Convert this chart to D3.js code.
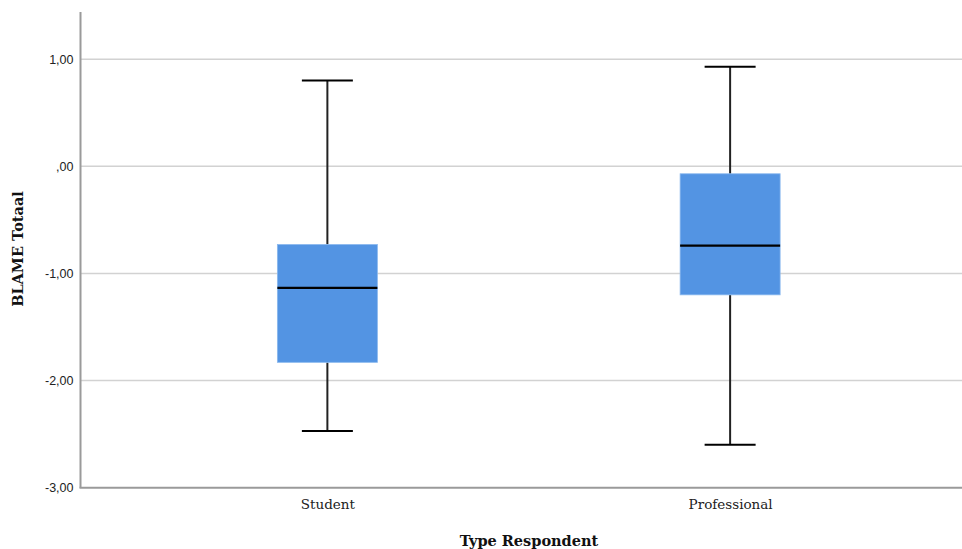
<!DOCTYPE html>
<html><head><meta charset="utf-8">
<script src="https://cdn.jsdelivr.net/npm/d3@7"></script>
<style>body{margin:0;background:#fff}svg{display:block}</style>
</head><body>
<svg id="c" width="962" height="549"></svg>
<script>
const categories = ["Student", "Professional"];
const whiskerLow  = [-2.47, -2.60];
const q1          = [-1.83, -1.20];
const medians     = [-1.135, -0.74];
const q3          = [-0.73, -0.07];
const whiskerHigh = [0.80, 0.93];
const yTicks = [1, 0, -1, -2, -3];
const tickLabels = ["1,00", ",00", "-1,00", "-2,00", "-3,00"];

(function () {
const svg = d3.select("#c");
const pL = 80.5, pT = 12, pB = 487.7, pR = 977;
const serif = "'DejaVu Serif', 'Liberation Serif', serif";
const y = d3.scaleLinear().domain([-3, 1.44]).range([pB, pT]);
const x = d3.scalePoint().domain(categories).range([pL, pR]).padding(0.613);

// grid
svg.append("g").selectAll("line").data(yTicks.filter(d => d !== -3)).join("line")
  .attr("x1", pL).attr("x2", 962).attr("y1", d => y(d)).attr("y2", d => y(d))
  .attr("stroke", "#d2d2d2").attr("stroke-width", 1.5);

// y axis
const yAxis = d3.axisLeft(y).tickValues(yTicks).tickSize(0).tickPadding(7)
  .tickFormat((d, i) => tickLabels[i]);
const gy = svg.append("g").attr("transform", `translate(${pL},0)`).call(yAxis);
gy.select(".domain").remove();
gy.selectAll("text").attr("font-family", "Arial, 'Liberation Sans', sans-serif")
  .attr("font-size", 12.5).attr("fill", "#222");
svg.append("line").attr("x1", pL).attr("x2", pL).attr("y1", pT).attr("y2", pB)
  .attr("stroke", "#9a9a9a").attr("stroke-width", 2);

// x axis
const xAxis = d3.axisBottom(x).tickSize(0).tickPadding(12);
const gx = svg.append("g").attr("transform", `translate(0,${pB})`).call(xAxis);
gx.select(".domain").remove();
gx.attr("font-family", serif);
gx.selectAll("text").attr("font-family", serif)
  .attr("font-size", 13.5).attr("fill", "#222");
svg.append("line").attr("x1", pL - 1).attr("x2", 962).attr("y1", pB).attr("y2", pB)
  .attr("stroke", "#9a9a9a").attr("stroke-width", 2);

// boxes
const boxW = 100, capW = 51;
const g = svg.append("g");
categories.forEach((c, i) => {
  const cx = x(c);
  g.append("line").attr("x1", cx).attr("x2", cx).attr("y1", y(whiskerHigh[i])).attr("y2", y(q3[i]))
    .attr("stroke", "#222").attr("stroke-width", 2);
  g.append("line").attr("x1", cx).attr("x2", cx).attr("y1", y(q1[i])).attr("y2", y(whiskerLow[i]))
    .attr("stroke", "#222").attr("stroke-width", 2);
  g.append("line").attr("x1", cx - capW / 2).attr("x2", cx + capW / 2)
    .attr("y1", y(whiskerHigh[i])).attr("y2", y(whiskerHigh[i])).attr("stroke", "#000").attr("stroke-width", 2);
  g.append("line").attr("x1", cx - capW / 2).attr("x2", cx + capW / 2)
    .attr("y1", y(whiskerLow[i])).attr("y2", y(whiskerLow[i])).attr("stroke", "#000").attr("stroke-width", 2);
  g.append("rect").attr("x", cx - boxW / 2).attr("width", boxW)
    .attr("y", y(q3[i])).attr("height", y(q1[i]) - y(q3[i]))
    .attr("fill", "#5394e3").attr("stroke", "#8ab8ee").attr("stroke-width", 0.8);
  g.append("line").attr("x1", cx - boxW / 2).attr("x2", cx + boxW / 2)
    .attr("y1", y(medians[i])).attr("y2", y(medians[i])).attr("stroke", "#000").attr("stroke-width", 2.2);
});

// titles
svg.append("text").attr("x", 529).attr("y", 546).attr("text-anchor", "middle")
  .attr("font-family", serif).attr("font-weight", "bold")
  .attr("font-size", 14.5).attr("fill", "#111").text("Type Respondent");
svg.append("text").attr("transform", "translate(23,249) rotate(-90)").attr("text-anchor", "middle")
  .attr("font-family", serif).attr("font-weight", "bold")
  .attr("font-size", 14.5).attr("fill", "#111").text("BLAME Totaal");
})();
</script>
</body></html>
